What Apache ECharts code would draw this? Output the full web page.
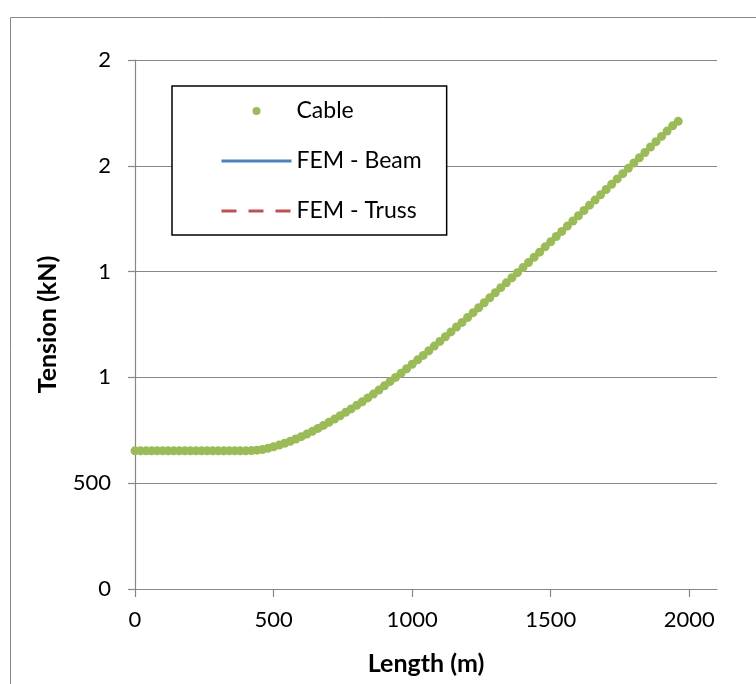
<!DOCTYPE html>
<html>
<head>
<meta charset="utf-8">
<script src="https://cdn.jsdelivr.net/npm/echarts@6/dist/echarts.min.js"></script>
<style>html,body{margin:0;padding:0;background:#fff}#c{width:756px;height:684px}</style>
</head>
<body>
<div id="c"></div>
<script>
// Length along the cable (m)
const lengths = [0,20,40,60,80,100,120,140,160,180,200,220,240,260,280,300,320,340,360,380,400,
  420,440,460,480,500,520,540,560,580,600,620,640,660,680,700,720,740,760,780,800,
  820,840,860,880,900,920,940,960,980,1000,1020,1040,1060,1080,1100,1120,1140,1160,1180,1200,
  1220,1240,1260,1280,1300,1320,1340,1360,1380,1400,1420,1440,1460,1480,1500,1520,1540,1560,1580,1600,
  1620,1640,1660,1680,1700,1720,1740,1760,1780,1800,1820,1840,1860,1880,1900,1920,1940,1960];
// Cable tension (kN)
const cableTension = [653,653,653,653,653,653,653,653,653,653,653,653,653,653,653,653,653,653,653,653,653,
  654,656,659,665,672,680,689,698,709,720,732,745,759,773,788,803,819,835,851,868,
  885,903,921,940,960,980,1000,1020,1041,1062,1083,1104,1126,1148,1170,1192,1215,1238,1260,1283,
  1306,1329,1353,1376,1400,1424,1447,1471,1495,1519,1543,1568,1592,1617,1641,1666,1690,1715,1739,1764,
  1789,1814,1838,1863,1888,1913,1938,1963,1988,2013,2038,2063,2089,2114,2139,2164,2189,2210];
// FEM results coincide with the cable solution (hidden beneath the dots)
const femBeamTension = cableTension.slice();
const femTrussTension = cableTension.slice();

const xTicks = [0, 500, 1000, 1500, 2000];
const yTickValues = [0, 500, 1000, 1500, 2000, 2500];
const yTickLabels = ['0', '500', '1', '1', '2', '2'];
const seriesNames = ['Cable', 'FEM - Beam', 'FEM - Truss'];

const FONT = 'Lato';
const GRID = '#878787';

function pairs(xs, ys) { return xs.map((x, i) => [x, ys[i]]); }

const chart = echarts.init(document.getElementById('c'), null, {renderer: 'canvas'});
chart.setOption({
  animation: false,
  backgroundColor: '#fff',
  textStyle: {fontFamily: FONT},
  graphic: [{
    type: 'rect', silent: true, z: -10,
    shape: {x: 10.5, y: 17.5, width: 800, height: 800},
    style: {fill: 'none', stroke: '#868686', lineWidth: 1}
  }],
  grid: {left: 135, top: 60, width: 582, height: 529, containLabel: false},
  legend: {
    orient: 'vertical',
    left: 172, top: 86,
    padding: [12, 25, 11, 48],
    itemGap: 24,
    itemWidth: 70,
    itemHeight: 8,
    itemTextGap: 6,
    backgroundColor: '#fff',
    borderColor: '#000',
    borderWidth: 1.5,
    borderRadius: 0,
    selectedMode: false,
    textStyle: {fontFamily: FONT, fontSize: 23, color: '#000', lineHeight: 26},
    data: [
      {name: seriesNames[0], icon: 'circle', itemStyle: {color: '#9BBB59'}},
      {name: seriesNames[1], itemStyle: {opacity: 0}, lineStyle: {width: 3, color: '#4F81BD'}},
      {name: seriesNames[2], itemStyle: {opacity: 0}, lineStyle: {width: 3, color: '#C0504D', type: [15, 12]}}
    ]
  },
  xAxis: {
    type: 'value',
    min: 0, max: 2100, interval: 500,
    name: 'Length (m)',
    nameLocation: 'middle',
    nameGap: 62,
    nameTextStyle: {fontFamily: FONT, fontSize: 25, fontWeight: 'bold', color: '#000'},
    axisLine: {show: true, onZero: false, lineStyle: {color: GRID, width: 1.2}},
    axisTick: {show: true, length: 8, lineStyle: {color: GRID, width: 1.2}, customValues: xTicks},
    axisLabel: {
      fontFamily: FONT, fontSize: 22, color: '#000', margin: 20, customValues: xTicks,
      formatter: function (v) { return String(v); }
    },
    splitLine: {show: false}
  },
  yAxis: {
    type: 'value',
    min: 0, max: 2500, interval: 500,
    name: 'Tension (kN)',
    nameLocation: 'middle',
    nameGap: 75,
    nameRotate: 90,
    nameTextStyle: {fontFamily: FONT, fontSize: 25, fontWeight: 'bold', color: '#000'},
    axisLine: {show: true, lineStyle: {color: GRID, width: 1.2}},
    axisTick: {show: true, length: 7, lineStyle: {color: GRID, width: 1.2}},
    axisLabel: {
      fontFamily: FONT, fontSize: 22, color: '#000', margin: 24,
      formatter: function (v) {
        const i = yTickValues.indexOf(v);
        return i >= 0 ? yTickLabels[i] : '';
      }
    },
    splitLine: {show: true, lineStyle: {color: GRID, width: 1.2}}
  },
  series: [
    {
      name: seriesNames[1], type: 'line', z: 2,
      data: pairs(lengths, femBeamTension),
      symbol: 'none', showSymbol: false,
      lineStyle: {color: '#4F81BD', width: 3},
      itemStyle: {color: '#4F81BD'}
    },
    {
      name: seriesNames[2], type: 'line', z: 3,
      data: pairs(lengths, femTrussTension),
      symbol: 'none', showSymbol: false,
      lineStyle: {color: '#C0504D', width: 3, type: [15, 12]},
      itemStyle: {color: '#C0504D'}
    },
    {
      name: seriesNames[0], type: 'scatter', z: 4,
      data: pairs(lengths, cableTension),
      symbol: 'circle', symbolSize: 9,
      itemStyle: {color: '#9BBB59', opacity: 1}
    }
  ]
});
</script>
</body>
</html>
